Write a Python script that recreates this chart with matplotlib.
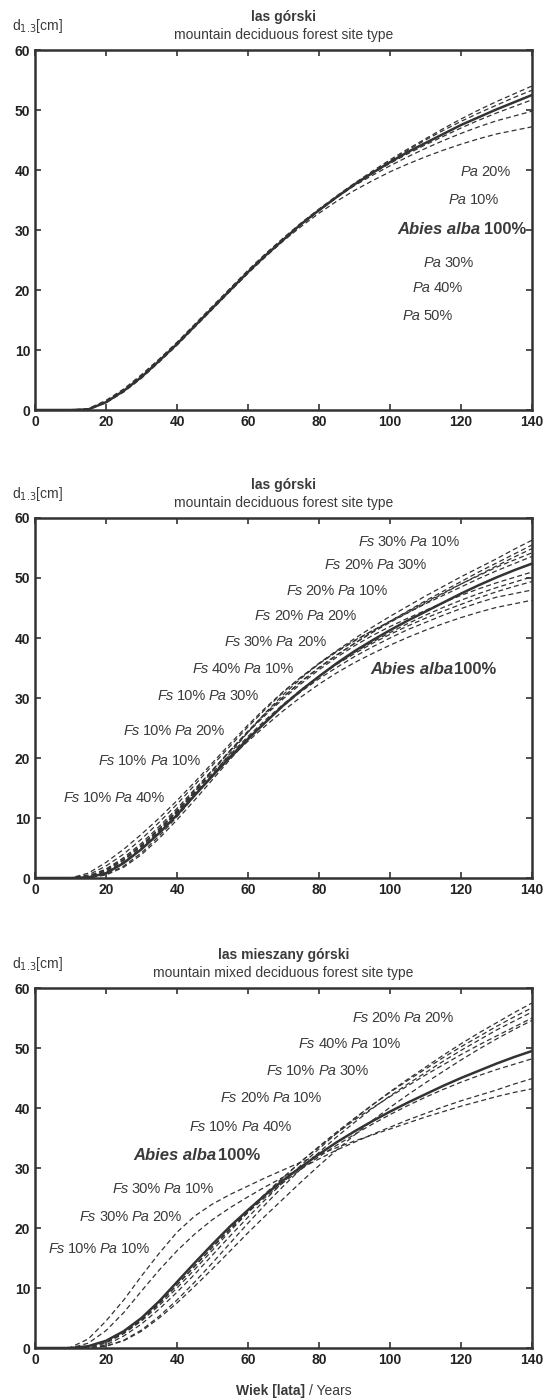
import matplotlib
matplotlib.use("Agg")
import matplotlib.pyplot as plt
from matplotlib.offsetbox import TextArea, HPacker, AnnotationBbox

plt.rcParams['font.family'] = ['Liberation Sans', 'DejaVu Sans']

ages = list(range(0, 145, 5))

# ---------- Panel 1: las górski (Pa admixtures) ----------
abies_1 = [0,0,0,0.1,1.3,3.2,5.5,8.2,11,14,17,20,23,25.8,28.4,31,33.3,35.5,37.6,39.5,41.3,43,44.5,46,47.5,48.8,50.1,51.3,52.5]
p1_pa20 = [0,0,0,0.2,1.6,3.5,5.9,8.5,11.3,14.3,17.3,20.3,23.3,26.1,28.7,31.2,33.5,35.7,37.8,39.8,41.7,43.5,45.2,46.9,48.5,50,51.4,52.7,54]
p1_pa10 = [0,0,0,0.1,1.4,3.3,5.7,8.4,11.2,14.2,17.2,20.2,23.1,25.9,28.5,31,33.3,35.5,37.6,39.6,41.5,43.3,45,46.6,48.1,49.5,50.8,52.1,53.3]
p1_pa30 = [0,0,0,0.1,1.2,3.0,5.3,8.0,10.8,13.8,16.8,19.8,22.8,25.6,28.3,30.9,33.2,35.4,37.5,39.4,41.1,42.7,44.2,45.6,47,48.3,49.5,50.6,51.7]
p1_pa40 = [0,0,0,0.2,1.5,3.4,5.7,8.3,11.1,14.1,17.1,20.1,23.1,25.9,28.6,31.1,33.4,35.5,37.4,39.1,40.7,42.2,43.6,44.9,46.1,47.2,48.2,49,49.8]
p1_pa50 = [0,0,0,0.1,1.3,3.1,5.4,8.1,10.9,13.9,16.9,19.9,22.8,25.6,28.2,30.6,32.8,34.8,36.6,38.2,39.7,41.0,42.2,43.3,44.3,45.2,46,46.6,47.2]
p1_dashed = [p1_pa20, p1_pa10, p1_pa30, p1_pa40, p1_pa50]

# ---------- Panel 2: las górski (Fs + Pa admixtures) ----------
abies_2 = [0,0,0,0.1,0.8,2.5,4.8,7.5,10.5,13.8,17,20.2,23.2,26,28.8,31.3,33.6,35.8,37.8,39.6,41.3,42.9,44.4,45.9,47.4,48.8,50.1,51.3,52.4]
p2_fs30pa10 = [0,0,0,0.5,2,4,6.5,9.3,12.3,15.5,18.8,22,25.2,28.2,31,33.5,35.8,37.9,39.9,41.8,43.6,45.3,47,48.6,50.2,51.7,53.2,54.8,56.3]
p2_fs20pa30 = [0,0,0,0.2,1.2,3,5.4,8.2,11.3,14.6,18,21.3,24.5,27.5,30.2,32.7,35,37.1,39.1,41,42.8,44.5,46.2,47.8,49.4,51,52.5,54,55.5]
p2_fs20pa10 = [0,0,0,0.1,0.9,2.6,5,7.9,11,14.4,17.8,21.2,24.4,27.4,30.2,32.8,35.1,37.2,39.1,40.9,42.6,44.2,45.8,47.4,49,50.5,52,53.5,54.9]
p2_fs20pa20 = [0,0,0,0.8,2.6,4.8,7.3,10,12.9,16,19.2,22.4,25.5,28.4,31.1,33.5,35.7,37.7,39.5,41.2,42.8,44.4,46,47.5,49,50.4,51.8,53,54.2]
p2_fs30pa20 = [0,0,0,0.1,0.6,2,4.2,7,10.2,13.7,17.2,20.8,24.3,27.6,30.6,33.3,35.7,37.8,39.6,41.2,42.7,44.2,45.7,47.1,48.5,49.9,51.2,52.4,53.6]
p2_fs40pa10 = [0,0,0,0.3,1.5,3.4,5.8,8.6,11.6,14.8,18,21.2,24.3,27.2,29.9,32.4,34.7,36.8,38.7,40.4,41.9,43.3,44.6,45.9,47.1,48.2,49.2,50.1,51]
p2_fs10pa30 = [0,0,0,0,0.5,1.8,3.9,6.6,9.7,13,16.4,19.8,23,26,28.8,31.3,33.6,35.7,37.6,39.3,40.9,42.4,43.8,45.1,46.3,47.4,48.4,49.3,50.2]
p2_fs10pa20 = [0,0,0,0.2,1.2,3,5.3,8.1,11.1,14.3,17.5,20.6,23.6,26.4,29,31.4,33.6,35.6,37.4,39.1,40.6,42,43.3,44.5,45.6,46.7,47.7,48.6,49.4]
p2_fs10pa10 = [0,0,0,0.1,1,2.7,5,7.8,10.8,14,17.2,20.3,23.3,26.1,28.7,31.1,33.2,35.1,36.9,38.5,40,41.4,42.6,43.8,44.9,45.9,46.8,47.4,48]
p2_fs10pa40 = [0,0,0,0.3,1.4,3.2,5.5,8.2,11.1,14.1,17.1,20,22.8,25.4,27.9,30.2,32.3,34.2,35.9,37.4,38.8,40.1,41.3,42.4,43.4,44.3,45.1,45.7,46.3]
p2_dashed = [p2_fs30pa10, p2_fs20pa30, p2_fs20pa10, p2_fs20pa20, p2_fs30pa20,
             p2_fs40pa10, p2_fs10pa30, p2_fs10pa20, p2_fs10pa10, p2_fs10pa40]

# ---------- Panel 3: las mieszany górski ----------
abies_3 = [0,0,0,0.3,1.2,2.8,5,7.8,11,14.2,17.3,20.3,23,25.6,28,30.2,32.3,34.3,36.1,37.8,39.4,40.9,42.3,43.7,45,46.2,47.4,48.5,49.5]
p3_fs30pa20 = [0,0,0.1,1.5,4.5,8,12,15.8,19.3,22,24,25.6,27,28.4,29.7,31,32.2,33.4,34.5,35.5,36.5,37.5,38.5,39.4,40.3,41.1,41.9,42.6,43.2]
p3_fs30pa10 = [0,0,0,0.8,2.9,5.9,9.5,13,16.2,19,21.4,23.4,25.2,26.9,28.5,30,31.5,33,34.3,35.6,36.8,38,39.1,40.2,41.2,42.1,43,44,44.9]
p3_fs10pa10 = [0,0,0,0.2,1,2.5,4.6,7.4,10.5,13.7,16.8,19.8,22.6,25.2,27.6,29.8,31.9,33.8,35.6,37.3,38.9,40.4,41.8,43.1,44.3,45.4,46.4,47.3,48.2]
p3_fs20pa20 = [0,0,0,0,0.5,2,4,6.5,9.3,12.3,15.5,18.7,21.8,24.8,27.7,30.5,33.2,35.8,38.2,40.5,42.7,44.8,46.8,48.8,50.7,52.5,54.2,55.9,57.5]
p3_fs40pa10 = [0,0,0,0.1,0.8,2.4,4.5,7.1,10,13.1,16.3,19.5,22.6,25.6,28.4,31.1,33.6,36,38.3,40.5,42.6,44.6,46.5,48.4,50.2,51.9,53.6,55.2,56.7]
p3_fs10pa30 = [0,0,0,0,0.3,1.3,3,5.3,8,11,14.2,17.5,20.8,24,27,29.9,32.6,35.2,37.6,39.9,42,44,45.9,47.8,49.6,51.3,53,54.5,56]
p3_fs20pa10 = [0,0,0,0.2,1,2.6,4.8,7.5,10.5,13.6,16.8,19.9,22.9,25.8,28.5,31.1,33.5,35.8,38,40,41.9,43.7,45.5,47.2,48.9,50.5,52,53.5,55]
p3_fs10pa40 = [0,0,0,0,0.3,1.2,2.8,5,7.5,10.3,13.2,16.2,19.2,22.1,24.9,27.7,30.4,33,35.5,37.9,40.1,42.2,44.2,46.1,48,49.8,51.5,53.1,54.6]
p3_dashed = [p3_fs30pa20, p3_fs30pa10, p3_fs10pa10, p3_fs20pa20,
             p3_fs40pa10, p3_fs10pa30, p3_fs20pa10, p3_fs10pa40]

# labels: (pieces, x, y) ; pieces: list of (text, style); right-aligned at x
I, N, BI, B = 'it', 'n', 'bi', 'b'
labels_1 = [
    ([("Pa", I), ("20%", N)], 134, 39.7),
    ([("Pa", I), ("10%", N)], 130.7, 35.0),
    ([("Abies alba", BI), ("100%", B)], 138.5, 30.0),
    ([("Pa", I), ("30%", N)], 123.7, 24.5),
    ([("Pa", I), ("40%", N)], 120.6, 20.4),
    ([("Pa", I), ("50%", N)], 117.7, 15.6),
]
labels_2 = [
    ([("Fs", I), ("30%", N), ("Pa", I), ("10%", N)], 119.7, 56.0),
    ([("Fs", I), ("20%", N), ("Pa", I), ("30%", N)], 110.3, 52.2),
    ([("Fs", I), ("20%", N), ("Pa", I), ("10%", N)], 99.4, 47.8),
    ([("Fs", I), ("20%", N), ("Pa", I), ("20%", N)], 90.5, 43.6),
    ([("Fs", I), ("30%", N), ("Pa", I), ("20%", N)], 82.0, 39.4),
    ([("Fs", I), ("40%", N), ("Pa", I), ("10%", N)], 73.0, 34.8),
    ([("Fs", I), ("10%", N), ("Pa", I), ("30%", N)], 63.1, 30.3),
    ([("Fs", I), ("10%", N), ("Pa", I), ("20%", N)], 53.5, 24.5),
    ([("Fs", I), ("10%", N), ("Pa", I), ("10%", N)], 46.7, 19.5),
    ([("Fs", I), ("10%", N), ("Pa", I), ("40%", N)], 36.6, 13.3),
    ([("Abies alba", BI), ("100%", B)], 130.0, 34.7),
]
labels_3 = [
    ([("Fs", I), ("20%", N), ("Pa", I), ("20%", N)], 118.0, 55.0),
    ([("Fs", I), ("40%", N), ("Pa", I), ("10%", N)], 103.0, 50.6),
    ([("Fs", I), ("10%", N), ("Pa", I), ("30%", N)], 94.0, 46.2),
    ([("Fs", I), ("20%", N), ("Pa", I), ("10%", N)], 81.0, 41.6),
    ([("Fs", I), ("10%", N), ("Pa", I), ("40%", N)], 72.3, 36.8),
    ([("Abies alba", BI), ("100%", B)], 63.4, 32.1),
    ([("Fs", I), ("30%", N), ("Pa", I), ("10%", N)], 50.4, 26.5),
    ([("Fs", I), ("30%", N), ("Pa", I), ("20%", N)], 41.3, 21.8),
    ([("Fs", I), ("10%", N), ("Pa", I), ("10%", N)], 32.4, 16.5),
]

titles = [("las górski", "mountain deciduous forest site type"),
          ("las górski", "mountain deciduous forest site type"),
          ("las mieszany górski", "mountain mixed deciduous forest site type")]

xticks = [0, 20, 40, 60, 80, 100, 120, 140]
yticks = [0, 10, 20, 30, 40, 50, 60]

DARK = '#333333'
TXT = '#3a3a3a'
W, H = 544, 1399
fig = plt.figure(figsize=(W / 100, H / 100), dpi=100)

panel_px = [(50, 410), (518, 878), (988, 1348)]
left_px, right_px = 35, 532

styles = {
    'it': dict(style='italic', weight='normal'),
    'n': dict(style='normal', weight='normal'),
    'bi': dict(style='italic', weight='bold'),
    'b': dict(style='normal', weight='bold'),
}

def add_label(ax, pieces, x, y, abies_sep=1.0):
    bold = pieces[0][1] == 'bi'
    fs = 12 if bold else 10.5
    boxes = [TextArea(txt, textprops=dict(color=TXT, fontsize=fs, **styles[st]))
             for txt, st in pieces]
    sep = abies_sep if bold else 2.2
    pack = HPacker(children=boxes, align='baseline', pad=0, sep=sep)
    ab = AnnotationBbox(pack, (x, y), xycoords='data', box_alignment=(1, 0.5),
                        frameon=False, pad=0, annotation_clip=False)
    ax.add_artist(ab)

panels = [(abies_1, p1_dashed, labels_1), (abies_2, p2_dashed, labels_2),
          (abies_3, p3_dashed, labels_3)]

for k, ((top, bot), (abies, dashed, labels), (t1, t2)) in enumerate(zip(panel_px, panels, titles)):
    ax = fig.add_axes([left_px / W, (H - bot) / H, (right_px - left_px) / W, (bot - top) / H])
    for d in dashed:
        ax.plot(ages, d, color=DARK, lw=0.9, ls=(0, (4, 2.5)))
    ax.plot(ages, abies, color=DARK, lw=1.8, solid_capstyle='round')
    ax.set_xlim(0, 140)
    ax.set_ylim(0, 60)
    ax.set_xticks(xticks)
    ax.set_yticks(yticks)
    ax.tick_params(direction='in', top=True, right=True, length=4, width=1.2,
                   color=DARK, labelsize=10, labelcolor='#222222', pad=3.5)
    for lab in ax.get_xticklabels() + ax.get_yticklabels():
        lab.set_fontweight('bold')
    for sp in ax.spines.values():
        sp.set_linewidth(1.8)
        sp.set_color(DARK)
    for pieces, x, y in labels:
        add_label(ax, pieces, x, y, abies_sep=2.5 if k == 0 else 0.8)
    # titles
    fig.text((left_px + right_px) / 2 / W, (H - (top - 33)) / H, t1, ha='center', va='center',
             fontsize=10, fontweight='bold', color=TXT)
    fig.text((left_px + right_px) / 2 / W, (H - (top - 15)) / H, t2, ha='center', va='center',
             fontsize=10, color=TXT)
    fig.text(12 / W, (H - (top - 24)) / H, r"d$_{1.3}$[cm]", ha='left', va='center',
             fontsize=10, color=TXT)

# x-axis label
t_a = TextArea("Wiek [lata]", textprops=dict(color=TXT, fontsize=10, fontweight='bold'))
t_b = TextArea("/ Years", textprops=dict(color=TXT, fontsize=10))
pack = HPacker(children=[t_a, t_b], align='baseline', pad=0, sep=2.5)
ab = AnnotationBbox(pack, (294 / W, (H - 1391) / H), xycoords='figure fraction',
                    box_alignment=(0.5, 0.5), frameon=False, pad=0)
fig.add_artist(ab)

fig.savefig("out.png", dpi=100)
